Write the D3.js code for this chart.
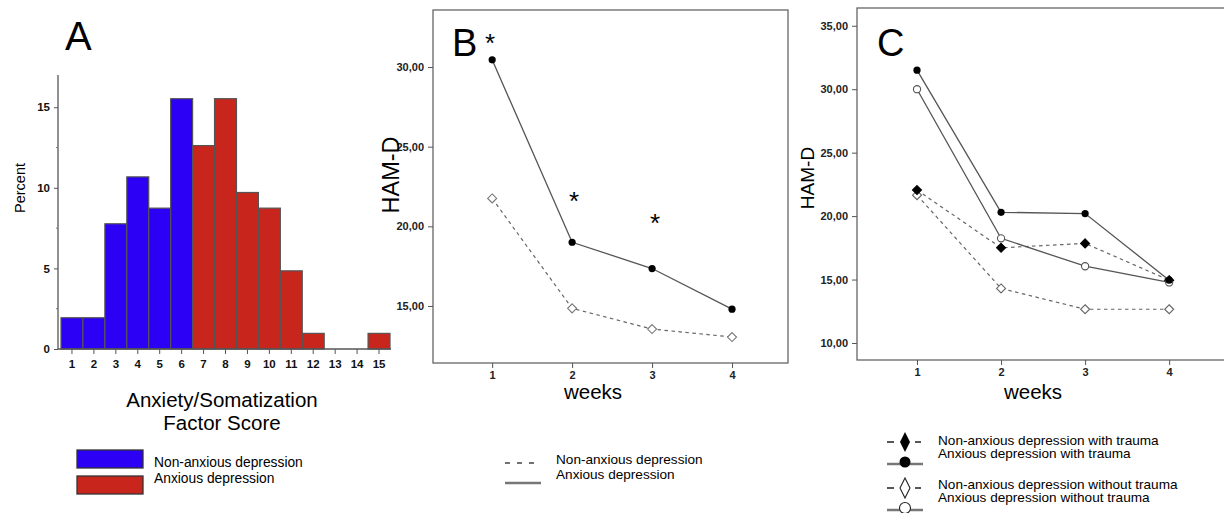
<!DOCTYPE html>
<html><head><meta charset="utf-8">
<script src="https://cdn.jsdelivr.net/npm/d3@7"></script>
<style>body{margin:0;background:#fff}svg{display:block;font-family:"Liberation Sans",Arial,sans-serif}</style>
</head><body>
<svg id="c" width="1224" height="513"></svg>
<script>
// Panel A data
const scores = [1,2,3,4,5,6,7,8,9,10,11,12,13,14,15];
const percents = [1.94,1.94,7.77,10.68,8.74,15.53,12.62,15.53,9.71,8.74,4.85,0.97,0,0,0.97];
const groupA = ["non","non","non","non","non","non","anx","anx","anx","anx","anx","anx","anx","anx","anx"];
const percentTicks = [0,5,10,15];
// Panel B data
const weeks = [1,2,3,4];
const bAnxious = [30.45,19.0,17.35,14.8];
const bNonAnxious = [21.75,14.85,13.55,13.05];
const bTicks = [15,20,25,30];
// Panel C data
const cAnxTrauma = [31.5,20.3,20.2,14.95];
const cAnxNoTrauma = [30.0,18.25,16.05,14.77];
const cNonTrauma = [22.05,17.5,17.85,14.95];
const cNonNoTrauma = [21.65,14.3,12.66,12.66];
const cTicks = [10,15,20,25,30,35];

const svg = d3.select("#c");
const fmt = d => d.toFixed(2).replace(".", ",");

// ---------- Panel A ----------
const xA = d3.scaleBand().domain(scores).range([61,390]).padding(0);
const yA = d3.scaleLinear().domain([0,17]).range([349,75]);
const gA = svg.append("g");
gA.selectAll("rect.bar").data(scores).join("rect")
  .attr("x", d=>xA(d)).attr("width", xA.bandwidth())
  .attr("y", (d,i)=>yA(percents[i])).attr("height",(d,i)=>yA(0)-yA(percents[i]))
  .attr("fill",(d,i)=>groupA[i]==="non"?"#2b00f5":"#c8261d")
  .attr("stroke","#555").attr("stroke-width",1.2)
  .attr("display",(d,i)=>percents[i]>0?null:"none");
const axAy = d3.axisLeft(yA).tickValues(percentTicks).tickSize(4).tickFormat(d3.format("d"));
gA.append("g").attr("transform","translate(58,0)").call(axAy)
  .call(g=>g.select(".domain").attr("d","M-0,75V349").attr("stroke","#555").attr("stroke-width",1.3))
  .call(g=>g.selectAll(".tick line").attr("stroke","#555"))
  .call(g=>g.selectAll("text").attr("font-size",11.5).attr("font-weight","bold").attr("fill","#111").attr("dx",-1));
gA.append("g").selectAll("line").data([2.5,7.5,12.5]).join("line")
  .attr("x1",56).attr("x2",58).attr("y1",d=>yA(d)).attr("y2",d=>yA(d)).attr("stroke","#777");
const axAx = d3.axisBottom(xA).tickSize(5);
gA.append("g").attr("transform","translate(0,349)").call(axAx)
  .call(g=>g.select(".domain").attr("d","M58,0H391").attr("stroke","#555").attr("stroke-width",1.3))
  .call(g=>g.selectAll(".tick line").attr("stroke","#555"))
  .call(g=>g.selectAll("text").attr("font-size",11.5).attr("font-weight","bold").attr("fill","#111").attr("dy","0.95em"));
svg.append("text").attr("transform","translate(25,188) rotate(-90)").attr("text-anchor","middle")
  .attr("font-size",14.5).text("Percent");
svg.append("text").attr("x",65).attr("y",50).attr("font-size",40).text("A");
svg.append("text").attr("x",222).attr("y",407).attr("text-anchor","middle").attr("font-size",20.5).text("Anxiety/Somatization");
svg.append("text").attr("x",222).attr("y",430).attr("text-anchor","middle").attr("font-size",20.5).text("Factor Score");
const legA = [{t:"Non-anxious depression",c:"#2b00f5",y:450},{t:"Anxious depression",c:"#c8261d",y:476}];
legA.forEach(l=>{
  svg.append("rect").attr("x",77).attr("y",l.y).attr("width",66).attr("height",18).attr("fill",l.c).attr("stroke","#333").attr("stroke-width",1.3);
});
svg.append("text").attr("x",154).attr("y",467).attr("font-size",13.8).text("Non-anxious depression");
svg.append("text").attr("x",154).attr("y",483).attr("font-size",13.8).text("Anxious depression");

// helper markers
function diamond(g, x, y, fill, stroke, s){
  g.append("path").attr("d",`M${x},${y-s}L${x+s},${y}L${x},${y+s}L${x-s},${y}Z`)
   .attr("fill",fill).attr("stroke",stroke).attr("stroke-width",1.1);
}
function frame(g, x0, y0, x1, y1){
  g.append("rect").attr("x",x0).attr("y",y0).attr("width",x1-x0).attr("height",y1-y0)
   .attr("fill","none").attr("stroke","#666").attr("stroke-width",1.3);
}

// ---------- Panel B ----------
const xB = d3.scaleLinear().domain([0.26,4.7]).range([433,788]);
const yB = d3.scaleLinear().domain([11.42,33.58]).range([363,10]);
const gB = svg.append("g");
frame(gB,433,10,788,363);
gB.append("g").attr("transform","translate(433,0)").call(d3.axisLeft(yB).tickValues(bTicks).tickSize(5).tickFormat(fmt))
  .call(g=>g.select(".domain").remove())
  .call(g=>g.selectAll(".tick line").attr("stroke","#555"))
  .call(g=>g.selectAll("text").attr("font-size",11).attr("font-weight","bold").attr("fill","#222").attr("dx",-1));
gB.append("g").attr("transform","translate(0,363)").call(d3.axisBottom(xB).tickValues(weeks).tickSize(5).tickFormat(d3.format("d")))
  .call(g=>g.select(".domain").remove())
  .call(g=>g.selectAll(".tick line").attr("stroke","#555"))
  .call(g=>g.selectAll("text").attr("font-size",11).attr("font-weight","bold").attr("fill","#222"));
const lineB = d3.line().x((d,i)=>xB(weeks[i])).y(d=>yB(d));
gB.append("path").attr("d",lineB(bNonAnxious)).attr("fill","none").attr("stroke","#666").attr("stroke-width",1.2).attr("stroke-dasharray","3.5,3.5");
gB.append("path").attr("d",lineB(bAnxious)).attr("fill","none").attr("stroke","#555").attr("stroke-width",1.3);
bNonAnxious.forEach((v,i)=>diamond(gB,xB(weeks[i]),yB(v),"#fff","#777",4.5));
bAnxious.forEach((v,i)=>gB.append("circle").attr("cx",xB(weeks[i])).attr("cy",yB(v)).attr("r",3.6).attr("fill","#000"));
svg.append("text").attr("x",452).attr("y",56).attr("font-size",38).text("B");
[[490,52],[574,210],[655,232]].forEach(p=>svg.append("text").attr("x",p[0]).attr("y",p[1]).attr("text-anchor","middle").attr("font-size",26).text("*"));
svg.append("text").attr("x",593).attr("y",399).attr("text-anchor","middle").attr("font-size",20.5).text("weeks");
svg.append("text").attr("transform","translate(399,175) rotate(-90)").attr("text-anchor","middle").attr("font-size",23.5).text("HAM-D");
// legend B
svg.append("line").attr("x1",505).attr("x2",541).attr("y1",463).attr("y2",463).attr("stroke","#444").attr("stroke-width",1.5).attr("stroke-dasharray","5,7");
svg.append("line").attr("x1",505).attr("x2",541).attr("y1",483).attr("y2",483).attr("stroke","#777").attr("stroke-width",2.5);
svg.append("text").attr("x",556).attr("y",464).attr("font-size",13.6).text("Non-anxious depression");
svg.append("text").attr("x",556).attr("y",479).attr("font-size",13.6).text("Anxious depression");

// ---------- Panel C ----------
const xC = d3.scaleLinear().domain([0.286,4.7]).range([857,1228]);
const yC = d3.scaleLinear().domain([8.66,36.4]).range([360,8]);
const gC = svg.append("g");
frame(gC,857,8,1232,360);
gC.append("g").attr("transform","translate(857,0)").call(d3.axisLeft(yC).tickValues(cTicks).tickSize(5).tickFormat(fmt))
  .call(g=>g.select(".domain").remove())
  .call(g=>g.selectAll(".tick line").attr("stroke","#555"))
  .call(g=>g.selectAll("text").attr("font-size",11).attr("font-weight","bold").attr("fill","#222").attr("dx",-1));
gC.append("g").attr("transform","translate(0,360)").call(d3.axisBottom(xC).tickValues(weeks).tickSize(5).tickFormat(d3.format("d")))
  .call(g=>g.select(".domain").remove())
  .call(g=>g.selectAll(".tick line").attr("stroke","#555"))
  .call(g=>g.selectAll("text").attr("font-size",11).attr("font-weight","bold").attr("fill","#222"));
const lineC = d3.line().x((d,i)=>xC(weeks[i])).y(d=>yC(d));
[cNonTrauma,cNonNoTrauma].forEach(s=>gC.append("path").attr("d",lineC(s)).attr("fill","none").attr("stroke","#666").attr("stroke-width",1.2).attr("stroke-dasharray","3.5,3.5"));
[cAnxTrauma,cAnxNoTrauma].forEach(s=>gC.append("path").attr("d",lineC(s)).attr("fill","none").attr("stroke","#555").attr("stroke-width",1.3));
cNonNoTrauma.forEach((v,i)=>diamond(gC,xC(weeks[i]),yC(v),"#fff","#666",4.5));
cNonTrauma.forEach((v,i)=>diamond(gC,xC(weeks[i]),yC(v),"#000","#000",4.5));
cAnxNoTrauma.forEach((v,i)=>gC.append("circle").attr("cx",xC(weeks[i])).attr("cy",yC(v)).attr("r",3.6).attr("fill","#fff").attr("stroke","#555").attr("stroke-width",1.1));
cAnxTrauma.forEach((v,i)=>gC.append("circle").attr("cx",xC(weeks[i])).attr("cy",yC(v)).attr("r",3.6).attr("fill","#000"));
svg.append("text").attr("x",877).attr("y",56).attr("font-size",38).text("C");
svg.append("text").attr("x",1033).attr("y",399).attr("text-anchor","middle").attr("font-size",20.5).text("weeks");
svg.append("text").attr("transform","translate(814,178) rotate(-90)").attr("text-anchor","middle").attr("font-size",19).text("HAM-D");
// legend C
function legDash(y){
  svg.append("line").attr("x1",887).attr("x2",894).attr("y1",y).attr("y2",y).attr("stroke","#444").attr("stroke-width",1.8);
  svg.append("line").attr("x1",915).attr("x2",921).attr("y1",y).attr("y2",y).attr("stroke","#444").attr("stroke-width",1.8);
}
function legSolid(y){
  svg.append("line").attr("x1",887).attr("x2",923).attr("y1",y).attr("y2",y).attr("stroke","#777").attr("stroke-width",2.5);
}
legDash(442); svg.append("path").attr("d","M905,432L910,442L905,452L900,442Z").attr("fill","#000");
legSolid(464); svg.append("circle").attr("cx",905).attr("cy",462).attr("r",5.5).attr("fill","#000");
legDash(488); svg.append("path").attr("d","M905,478L910,488L905,498L900,488Z").attr("fill","#fff").attr("stroke","#222").attr("stroke-width",1.1);
legSolid(510); svg.append("circle").attr("cx",905).attr("cy",508).attr("r",5.5).attr("fill","#fff").attr("stroke","#222").attr("stroke-width",1.1);
svg.append("text").attr("x",938).attr("y",445).attr("font-size",13.6).text("Non-anxious depression with trauma");
svg.append("text").attr("x",938).attr("y",458).attr("font-size",13.6).text("Anxious depression with trauma");
svg.append("text").attr("x",938).attr("y",489).attr("font-size",13.6).text("Non-anxious depression without trauma");
svg.append("text").attr("x",938).attr("y",502).attr("font-size",13.6).text("Anxious depression without trauma");
</script>
</body></html>
